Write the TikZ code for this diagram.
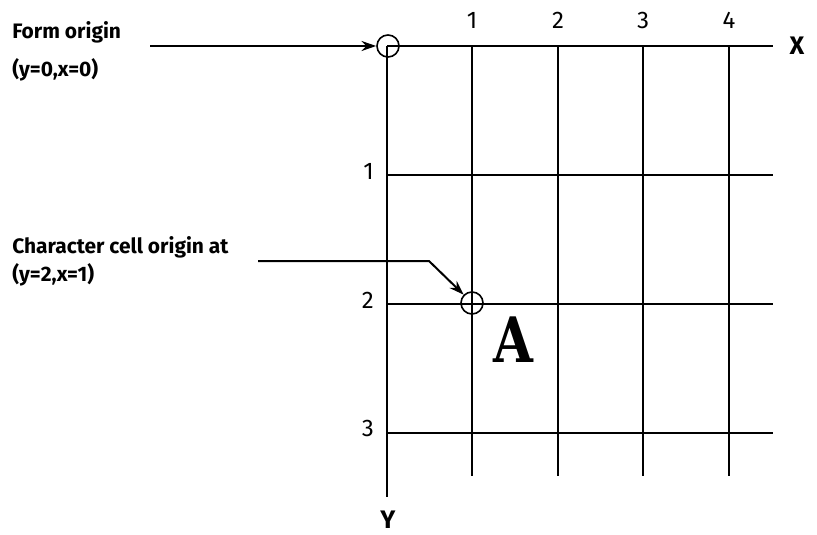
\documentclass[tikz,border=0pt]{standalone}
\usepackage{fontspec}
\setsansfont{Fira Sans}
\newfontfamily\letterfont{DejaVu Serif}
\usetikzlibrary{arrows.meta}
\begin{document}
\begin{tikzpicture}[x=0.75pt,y=-0.75pt,
  gridline/.style={line width=1.5pt},
  lbl/.style={font=\sffamily\fontsize{15.7}{18}\selectfont\bfseries, anchor=west, inner sep=0pt},
  num/.style={font=\sffamily\fontsize{18}{20}\selectfont, inner sep=0pt},
  axis/.style={font=\sffamily\fontsize{19}{22}\selectfont\bfseries, inner sep=0pt},
  ring/.style={circle, draw, line width=1.2pt, minimum size=16.5pt, inner sep=0pt},
  pointer/.style={line width=1.5pt, -{Stealth[length=11pt,width=7.5pt]}}]
\useasboundingbox (0,0) rectangle (817,535);
% grid
\foreach \y in {46,175,304,433} \draw[gridline] (387,\y) -- (773,\y);
\draw[gridline] (387,46) -- (387,497);
\foreach \x in {472,558,643,729} \draw[gridline] (\x,46) -- (\x,476);
% column numbers
\node[num] (c1n) at (472,20) {1};
\node[num] (c2n) at (558,20) {2};
\node[num] (c3n) at (643,20) {3};
\node[num] (c4n) at (729,20) {4};
% row numbers
\node[num, anchor=east] (r1n) at (374,171) {1};
\node[num, anchor=east] (r2n) at (374,300) {2};
\node[num, anchor=east] (r3n) at (374,428) {3};
% axes
\node[axis] (xl) at (797,46) {X};
\node[axis] (yl) at (388,520) {Y};
% circles
\node[ring] (o1) at (388,46) {};
\node[ring] (o2) at (472,303) {};
% labels
\node[lbl] (l1a) at (12,32) {Form origin};
\node[lbl] (l1b) at (12,70) {(y=0,x=0)};
\node[lbl] (l2a) at (12,247) {Character cell origin at};
\node[lbl] (l2b) at (12,275) {(y=2,x=1)};
% pointers
\coordinate (p1) at (150,46);
\draw[pointer] (p1) -- (o1.west);
\coordinate (p2) at (258,261);
\coordinate (p2b) at (429,261);
\draw[pointer] (p2) -- (p2b) -- (o2.135);
% letter
\node[font=\letterfont\bfseries\fontsize{47}{47}\selectfont, xscale=0.82, inner sep=0pt] (A) at (513,340) {A};
\end{tikzpicture}
\end{document}
